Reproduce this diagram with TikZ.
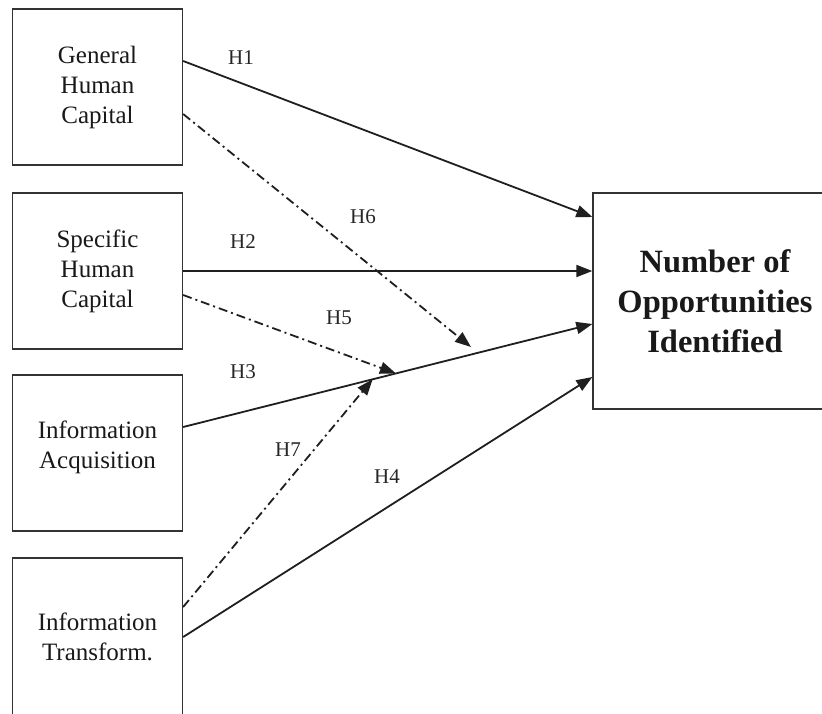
\documentclass[tikz,border=0pt]{standalone}
\usepackage{fontspec}
\setmainfont{Liberation Serif}
\usetikzlibrary{arrows.meta,calc}
\begin{document}
\begin{tikzpicture}[x=1pt,y=-1pt,
  box/.style={draw=black!80, line width=1.3pt, minimum width=170pt, minimum height=156pt,
    align=center, inner sep=0pt, text=black!90, font=\fontsize{25}{30}\selectfont},
  boxtext/.style={align=center, inner sep=0pt, text=black!90, font=\fontsize{25}{30}\selectfont},
  link/.style={line width=1.8pt, draw=black!88, -{Triangle[length=16pt,width=12pt]}},
  modlink/.style={link, dash pattern=on 9pt off 4pt on 2pt off 4pt},
  hlab/.style={font=\fontsize{21}{21}\selectfont, text=black!85, inner sep=0pt}]
\useasboundingbox (0,0) rectangle (822,713);

\node[box] (ghc) at (97.5,87) {General\\Human\\Capital};
\node[box] (shc) at (97.5,271) {Specific\\Human\\Capital};
\node[box] (ia) at (97.5,453) {};
\node[boxtext] (iat) at ([yshift=6pt]ia.center) {Information\\Acquisition};
\node[box, minimum height=158pt] (it) at (97.5,637) {Information\\Transform.};
\node[box, minimum width=244pt, minimum height=216pt,
  font=\fontsize{32.5}{40}\selectfont\bfseries] (noi) at (715,301)
  {Number of\\Opportunities\\Identified};

\coordinate (h3s) at ([yshift=26pt]ia.east);
\coordinate (h3e) at ([yshift=-23pt]noi.west);
\coordinate (m5) at ($(h3s)!0.52!(h3e)$);
\coordinate (m7) at ($(h3s)!0.463!(h3e)$);
\coordinate (m6) at (471,347);

\draw[link] ([yshift=26pt]ghc.east) -- ([yshift=84pt]noi.west);
\draw[link] (shc.east) -- ([yshift=30pt]noi.west);
\draw[link] (h3s) -- (h3e);
\draw[link] (it.east) -- ([yshift=-76pt]noi.west);
\draw[modlink] ([yshift=-27pt]ghc.east) -- (m6);
\draw[modlink] ([yshift=-24pt]shc.east) -- (m5);
\draw[modlink] ([yshift=30pt]it.east) -- (m7);

\node[hlab] (l1) at (241,58) {H1};
\node[hlab] (l6) at (363,217) {H6};
\node[hlab] (l2) at (243,242) {H2};
\node[hlab] (l5) at (339,318) {H5};
\node[hlab] (l3) at (243,372) {H3};
\node[hlab] (l7) at (288,450) {H7};
\node[hlab] (l4) at (387,477) {H4};
\end{tikzpicture}
\end{document}
